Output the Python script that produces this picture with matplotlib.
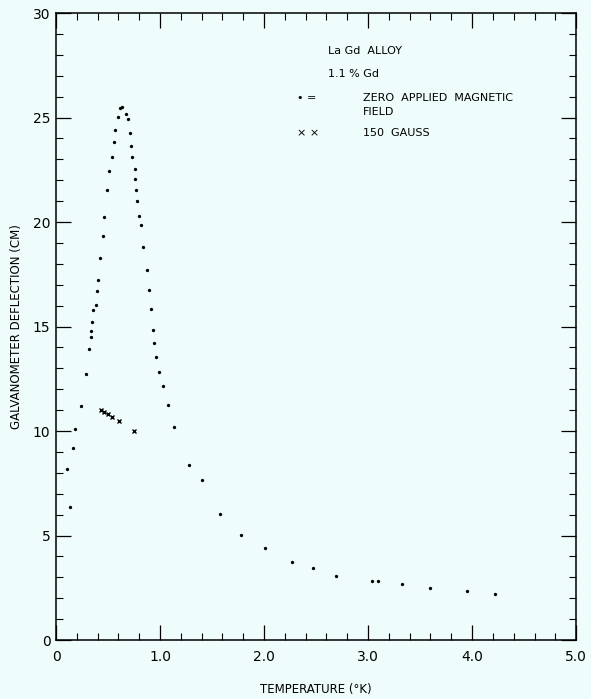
import numpy as np
import matplotlib
matplotlib.use('Agg')
import matplotlib.pyplot as plt
from matplotlib.ticker import MultipleLocator

# zero applied field (circles)
temp_zero = [0.101, 0.130, 0.165, 0.185, 0.24, 0.29, 0.313, 0.332, 0.338, 0.348,
             0.358, 0.38, 0.392, 0.406, 0.425, 0.447, 0.466, 0.488, 0.514, 0.534,
             0.553, 0.569, 0.594, 0.617, 0.639, 0.668, 0.69, 0.713, 0.716, 0.726,
             0.755, 0.762, 0.771, 0.781, 0.80, 0.813, 0.838, 0.87, 0.892, 0.915,
             0.931, 0.944, 0.963, 0.986, 1.024, 1.072, 1.13, 1.277, 1.402, 1.575,
             1.78, 2.011, 2.264, 2.473, 2.69, 3.034, 3.094, 3.33, 3.60, 3.947, 4.216]
defl_zero = [8.17, 6.35, 9.17, 10.10, 11.20, 12.73, 13.92, 14.51, 14.80, 15.22,
             15.79, 16.03, 16.71, 17.22, 18.26, 19.34, 20.22, 21.53, 22.43, 23.11,
             23.83, 24.42, 25.01, 25.44, 25.52, 25.15, 24.91, 24.24, 23.64, 23.12,
             22.54, 22.04, 21.55, 20.99, 20.27, 19.84, 18.79, 17.70, 16.75, 15.82,
             14.85, 14.22, 13.56, 12.84, 12.15, 11.24, 10.18, 8.37, 7.67, 6.03,
             5.04, 4.40, 3.73, 3.43, 3.08, 2.81, 2.81, 2.67, 2.49, 2.34, 2.20]

# 150 gauss (crosses)
temp_150 = [0.435, 0.463, 0.495, 0.534, 0.608, 0.752]
defl_150 = [11.0, 10.9, 10.8, 10.68, 10.48, 10.0]

bg = '#effcfc'
fig = plt.figure(figsize=(5.91, 6.99), dpi=100, facecolor=bg)
ax = fig.add_axes([0.0948, 0.0844, 0.88, 0.897], facecolor=bg)

ax.plot(temp_zero, defl_zero, 'o', color='black', markersize=2.4, markeredgewidth=0)
ax.plot(temp_150, defl_150, 'x', color='black', markersize=2.6, markeredgewidth=1.0)

ax.set_xlim(0, 5.0)
ax.set_ylim(0, 30)
ax.xaxis.set_major_locator(MultipleLocator(1.0))
ax.xaxis.set_minor_locator(MultipleLocator(0.2))
ax.yaxis.set_major_locator(MultipleLocator(5))
ax.yaxis.set_minor_locator(MultipleLocator(1))
ax.set_xticks([0, 1, 2, 3, 4, 5])
ax.set_xticklabels(['0', '1.0', '2.0', '3.0', '4.0', '5.0'])
ax.tick_params(which='both', direction='in', top=True, right=True, color='black')
ax.tick_params(which='major', length=11, width=0.9, labelsize=10, pad=7)
ax.tick_params(which='minor', length=5, width=0.8)
ax.tick_params(axis='y', which='major', pad=4)
for s in ax.spines.values():
    s.set_linewidth(1.1)

ax.set_xlabel('TEMPERATURE (°K)', fontsize=8.5, labelpad=14)
ax.set_ylabel('GALVANOMETER DEFLECTION (CM)', fontsize=8.5, labelpad=7)

# legend block written as text
ax.text(0.523, 0.935, 'La Gd  ALLOY', transform=ax.transAxes, fontsize=8)
ax.text(0.523, 0.898, '1.1 % Gd', transform=ax.transAxes, fontsize=8)
ax.text(0.463, 0.860, '\u2022 =', transform=ax.transAxes, fontsize=8)
ax.text(0.590, 0.860, 'ZERO  APPLIED  MAGNETIC', transform=ax.transAxes, fontsize=8)
ax.text(0.590, 0.838, 'FIELD', transform=ax.transAxes, fontsize=8)
ax.text(0.463, 0.804, '\u00d7 \u00d7', transform=ax.transAxes, fontsize=8)
ax.text(0.590, 0.804, '150  GAUSS', transform=ax.transAxes, fontsize=8)

fig.savefig('out.png', dpi=100, facecolor=bg)
